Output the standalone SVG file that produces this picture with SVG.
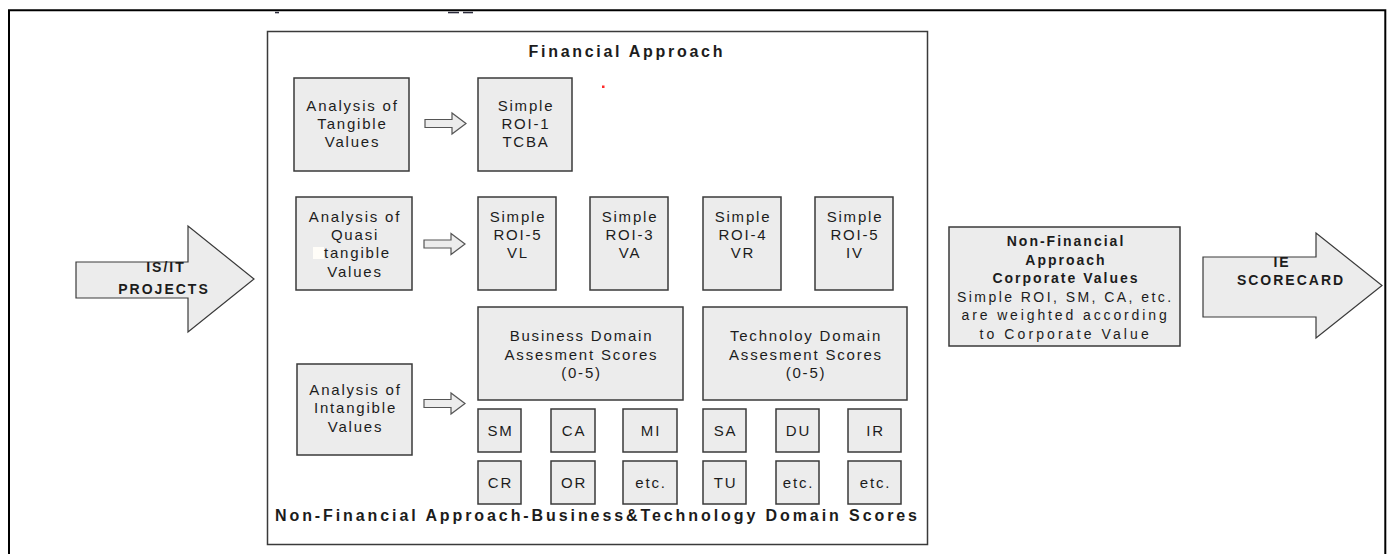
<svg xmlns="http://www.w3.org/2000/svg" width="1391" height="554" viewBox="0 0 1391 554">
  <style>
    .box { fill: #ececec; stroke: #3a3a3a; stroke-width: 1.5; }
    .frame { fill: #ffffff; stroke: #3a3a3a; stroke-width: 1.5; }
    .harrow { fill: #ececec; stroke: #555555; stroke-width: 1.2; }
    .bigarrow { fill: #ececec; stroke: #3a3a3a; stroke-width: 1.2; }
    text { font-family: "Liberation Sans", Arial, sans-serif; fill: #1c1c1c; text-anchor: middle; }
    .t { font-size: 15px; letter-spacing: 1.8px; }
    .n { font-size: 14px; letter-spacing: 1.8px; }
    .b { font-size: 14px; font-weight: bold; letter-spacing: 2px; }
    .title { font-size: 16px; font-weight: bold; }
  </style>
  <defs>
    <!-- small hollow block arrow, tip at (0,0) -->
    <path id="harrowShape" d="M -41 -4 L -14 -4 L -14 -10.5 L 0 0 L -14 10.5 L -14 4 L -41 4 Z"/>
  </defs>

  <!-- outer page frame (open at the bottom) -->
  <path d="M 9 554 L 9 10.3 L 1385.3 10.3 L 1385.3 554" fill="none" stroke="#000" stroke-width="2"/>
  <!-- clipped heading remnants -->
  <g fill="#2a2a3a">
    <rect x="275" y="11.8" width="4" height="1.5"/>
    <rect x="448" y="11.8" width="11" height="1.5"/>
    <rect x="463" y="11.8" width="10" height="1.5"/>
  </g>

  <!-- main container -->
  <g id="container">
    <rect class="frame" x="267.5" y="31.5" width="660" height="513"/>
    <text class="title" x="625.5" y="57" textLength="194" lengthAdjust="spacing">Financial Approach</text>
    <text class="title" x="596" y="521" textLength="642" lengthAdjust="spacing">Non-Financial Approach-Business&amp;Technology Domain Scores</text>
    <rect x="602" y="85.5" width="2.5" height="2.5" fill="#ff2a2a"/>
  </g>

  <!-- row 1: tangible values -->
  <g id="tangible">
    <rect class="box" x="294" y="78" width="115" height="93"/>
    <text class="t" x="352.5" y="111">Analysis of</text>
    <text class="t" x="352.5" y="129">Tangible</text>
    <text class="t" x="352.5" y="147">Values</text>
  </g>
  <g id="roi1">
    <rect class="box" x="478" y="78" width="94" height="93"/>
    <text class="t" x="526" y="111">Simple</text>
    <text class="t" x="526" y="129">ROI-1</text>
    <text class="t" x="526" y="147">TCBA</text>
  </g>

  <!-- row 2: quasi tangible values -->
  <g id="quasi">
    <rect class="box" x="296" y="197" width="116" height="93"/>
    <text class="t" x="355" y="222">Analysis of</text>
    <text class="t" x="355" y="240">Quasi</text>
    <rect x="313" y="247" width="11" height="12" fill="#fffdf8"/>
    <text class="t" x="324" y="258" style="text-anchor:start">tangible</text>
    <text class="t" x="355" y="277">Values</text>
  </g>
  <g id="roi5vl">
    <rect class="box" x="478" y="197" width="78" height="93"/>
    <text class="t" x="518" y="222">Simple</text>
    <text class="t" x="518" y="240">ROI-5</text>
    <text class="t" x="518" y="258">VL</text>
  </g>
  <g id="roi3va">
    <rect class="box" x="590" y="197" width="78" height="93"/>
    <text class="t" x="630" y="222">Simple</text>
    <text class="t" x="630" y="240">ROI-3</text>
    <text class="t" x="630" y="258">VA</text>
  </g>
  <g id="roi4vr">
    <rect class="box" x="703" y="197" width="78" height="93"/>
    <text class="t" x="743" y="222">Simple</text>
    <text class="t" x="743" y="240">ROI-4</text>
    <text class="t" x="743" y="258">VR</text>
  </g>
  <g id="roi5iv">
    <rect class="box" x="815" y="197" width="78" height="93"/>
    <text class="t" x="855" y="222">Simple</text>
    <text class="t" x="855" y="240">ROI-5</text>
    <text class="t" x="855" y="258">IV</text>
  </g>

  <!-- row 3: intangible values -->
  <g id="intangible">
    <rect class="box" x="297" y="364" width="115" height="91"/>
    <text class="t" x="355.5" y="395">Analysis of</text>
    <text class="t" x="355.5" y="413">Intangible</text>
    <text class="t" x="355.5" y="432">Values</text>
  </g>
  <g id="business">
    <rect class="box" x="478" y="307" width="205" height="93"/>
    <text class="t" x="581.5" y="341">Business Domain</text>
    <text class="t" x="581.5" y="360">Assesment Scores</text>
    <text class="t" x="581.5" y="378">(0-5)</text>
  </g>
  <g id="technology">
    <rect class="box" x="703" y="307" width="204" height="93"/>
    <text class="t" x="806" y="341">Technoloy Domain</text>
    <text class="t" x="806" y="360">Assesment Scores</text>
    <text class="t" x="806" y="378">(0-5)</text>
  </g>

  <!-- domain score items -->
  <g id="sm"><rect class="box" x="478" y="409" width="43" height="43"/><text class="t" x="500.5" y="435.5">SM</text></g>
  <g id="ca"><rect class="box" x="551" y="409" width="44" height="43"/><text class="t" x="574" y="435.5">CA</text></g>
  <g id="mi"><rect class="box" x="623" y="409" width="54" height="43"/><text class="t" x="651" y="435.5">MI</text></g>
  <g id="sa"><rect class="box" x="703" y="409" width="43" height="43"/><text class="t" x="725.5" y="435.5">SA</text></g>
  <g id="du"><rect class="box" x="776" y="409" width="43" height="43"/><text class="t" x="798.5" y="435.5">DU</text></g>
  <g id="ir"><rect class="box" x="848" y="409" width="53" height="43"/><text class="t" x="875.5" y="435.5">IR</text></g>
  <g id="cr"><rect class="box" x="478" y="461" width="43" height="43"/><text class="t" x="500.5" y="487.5">CR</text></g>
  <g id="or"><rect class="box" x="551" y="461" width="44" height="43"/><text class="t" x="574" y="487.5">OR</text></g>
  <g id="etc1"><rect class="box" x="623" y="461" width="54" height="43"/><text class="t" x="651" y="487.5">etc.</text></g>
  <g id="tu"><rect class="box" x="703" y="461" width="43" height="43"/><text class="t" x="725.5" y="487.5">TU</text></g>
  <g id="etc2"><rect class="box" x="776" y="461" width="43" height="43"/><text class="t" x="798.5" y="487.5">etc.</text></g>
  <g id="etc3"><rect class="box" x="848" y="461" width="53" height="43"/><text class="t" x="875.5" y="487.5">etc.</text></g>

  <!-- input arrow -->
  <g id="isit">
    <path class="bigarrow" d="M 76 262 L 188 262 L 188 226 L 254 279 L 188 332 L 188 298 L 76 298 Z"/>
    <text class="b" x="166" y="272">IS/IT</text>
    <text class="b" x="164" y="294">PROJECTS</text>
  </g>

  <!-- corporate values box -->
  <g id="corporate">
    <rect class="box" x="949" y="227" width="231" height="119"/>
    <text class="b" x="1066" y="246">Non-Financial</text>
    <text class="b" x="1066" y="264.5">Approach</text>
    <text class="b" x="1066" y="283">Corporate Values</text>
    <text class="n" x="1065" y="301.5" textLength="216" lengthAdjust="spacing">Simple ROI, SM, CA, etc.</text>
    <text class="n" x="1065" y="320" textLength="207" lengthAdjust="spacing">are weighted according</text>
    <text class="n" x="1065" y="338.5" textLength="171" lengthAdjust="spacing">to Corporate Value</text>
  </g>

  <!-- output arrow -->
  <g id="scorecard">
    <path class="bigarrow" d="M 1203 257 L 1316 257 L 1316 233 L 1382 285.5 L 1316 338 L 1316 317 L 1203 317 Z"/>
    <text class="b" x="1282" y="267">IE</text>
    <text class="b" x="1291" y="285">SCORECARD</text>
  </g>

  <!-- connectors -->
  <g id="connectors">
    <use href="#harrowShape" class="harrow" x="466" y="123.5"/>
    <use href="#harrowShape" class="harrow" x="465" y="244"/>
    <use href="#harrowShape" class="harrow" x="465" y="403.5"/>
  </g>
</svg>
